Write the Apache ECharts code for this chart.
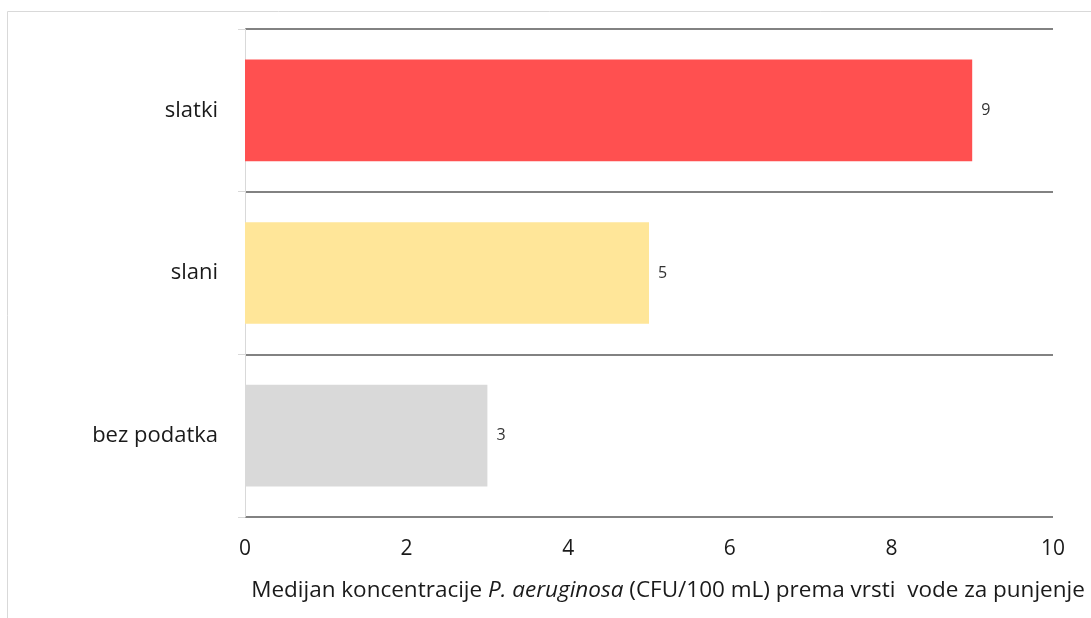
<!DOCTYPE html>
<html><head><meta charset="utf-8">
<script src="https://cdn.jsdelivr.net/npm/echarts@6/dist/echarts.min.js"></script>
<style>html,body{margin:0;padding:0;background:#fff}#c{width:1091px;height:618px}</style>
</head><body><div id="c"></div>
<script>
var categories = ['bez podatka', 'slani', 'slatki'];
var values = [3, 5, 9];
var barColors = ['#D9D9D9', '#FFE699', '#FF5050'];
var xTicks = [0, 2, 4, 6, 8, 10];

var chart = echarts.init(document.getElementById('c'));
var font = 'Open Sans';
chart.setOption({
  animation: false,
  graphic: [{type: 'rect', shape: {x: 7.5, y: 11.5, width: 1100, height: 640}, style: {fill: 'none', stroke: '#D9D9D9', lineWidth: 1}}],
  grid: {left: 245, right: 38, top: 29, bottom: 101},
  xAxis: {
    type: 'value', min: 0, max: 10, interval: 2,
    axisLine: {show: false}, axisTick: {show: false}, splitLine: {show: false},
    axisLabel: {fontFamily: font, fontSize: 21, color: '#1a1a1a', margin: 22},
    name: '{n|Medijan koncentracije }{i|P. aeruginosa}{n| (CFU/100 mL) prema vrsti  vode za punjenje}',
    nameLocation: 'middle', nameGap: 62,
    nameTextStyle: {
      rich: {
        n: {fontFamily: font, fontSize: 22.5, color: '#1a1a1a'},
        i: {fontFamily: font, fontSize: 22.5, color: '#1a1a1a', fontStyle: 'italic'}
      },
      padding: [0, 0, 0, 38]
    }
  },
  yAxis: {
    type: 'category', data: categories,
    axisLine: {show: true, lineStyle: {color: '#D9D9D9', width: 1}},
    axisTick: {show: true, length: 7, lineStyle: {color: '#D9D9D9'}},
    splitLine: {show: true, lineStyle: {color: '#595959', width: 1.5}},
    axisLabel: {fontFamily: font, fontSize: 22, color: '#1a1a1a', margin: 27}
  },
  series: [{
    type: 'bar',
    barCategoryGap: '37.5%',
    data: values.map(function (v, i) { return {value: v, itemStyle: {color: barColors[i]}}; }),
    label: {show: true, position: 'right', distance: 9, fontFamily: font, fontSize: 16, color: '#333333'}
  }]
});
</script></body></html>
